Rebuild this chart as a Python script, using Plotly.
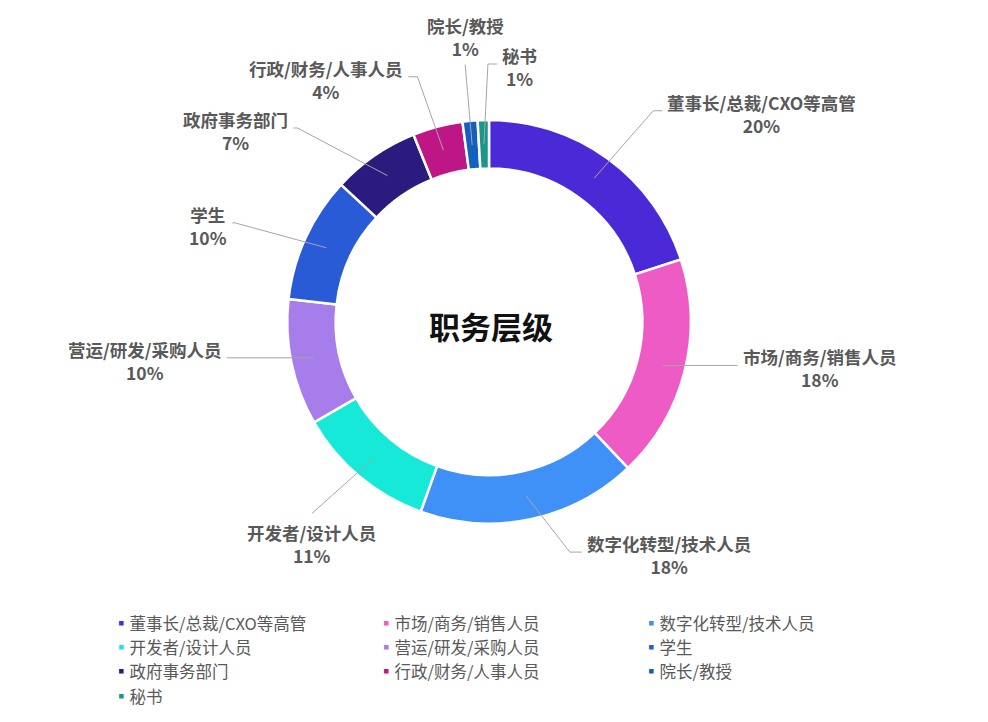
import math
import plotly.graph_objects as go

# --- Data ---
CATEGORIES = [
    "董事长/总裁/CXO等高管", "市场/商务/销售人员", "数字化转型/技术人员",
    "开发者/设计人员", "营运/研发/采购人员", "学生", "政府事务部门",
    "行政/财务/人事人员", "院长/教授", "秘书",
]
SHARES = [20.0, 17.9, 17.6, 11.2, 10.1, 10.1, 7.0, 4.0, 1.2, 0.9]
COLORS = [
    "#4A2AD6", "#EE5BC4", "#3F90F7", "#17E9D9", "#A77CEB",
    "#2A5BD7", "#2B1B7E", "#BF1686", "#1560BD", "#1B968A",
]
CENTER_TITLE = "职务层级"

# --- Layout settings ---
OFF = 8                  # page body margin
FW, FH = 972, 706        # figure size
CX, CY, R = 489, 324.5, 203.5   # pie centre / radius in page px
HOLE = 0.76
FONT = "Noto Sans CJK SC"
TEXT_GREY = "#595959"
LINE_GREY = "#A6A6A6"

# leader line: knee offset from slice mid point (px), tail length (px), text side
LABEL_LAYOUT = [
    (59, -68, 9, "right"),
    (0, 0, 75, "right"),
    (44, 57, 12, "right"),
    (-62, 56, 0, "below"),
    (0, 0, -87, "left"),
    (-91, -25, -3, "left"),
    (-90, -48, -4, "left"),
    (-26, -74, -9, "left"),
    (-7, -81, 0, "above"),
    (4, -81, 9, "right"),
]


def px_to_paper(x, y):
    return (x - OFF) / FW, 1 - (y - OFF) / FH


fig = go.Figure()

x0, y0 = px_to_paper(CX - R, CY + R)
x1, y1 = px_to_paper(CX + R, CY - R)
fig.add_trace(go.Pie(
    labels=CATEGORIES,
    values=SHARES,
    sort=False,
    direction="clockwise",
    rotation=0,
    hole=HOLE,
    textinfo="none",
    showlegend=False,
    marker=dict(colors=COLORS, line=dict(color="white", width=2.5)),
    domain=dict(x=[x0, x1], y=[y0, y1]),
))

# Legend entries: small coloured square in front of each name
for name, color in zip(CATEGORIES, COLORS):
    fig.add_trace(go.Scatter(
        x=[None], y=[None], mode="markers",
        name=f"<span style='color:{color}'>▪</span>{name}",
        marker=dict(symbol="square", size=6, color="rgba(0,0,0,0)"),
    ))

# Leader lines + labels
total = sum(SHARES)
r_mid = R * (1 + HOLE) / 2
cum = 0
shapes, annotations = [], []
for name, val, (kdx, kdy, tail, side) in zip(CATEGORIES, SHARES, LABEL_LAYOUT):
    theta = math.radians((cum + val / 2) / total * 360)
    cum += val
    sx = CX + r_mid * math.sin(theta)
    sy = CY - r_mid * math.cos(theta)
    kx, ky = sx + kdx, sy + kdy
    ex, ey = kx + tail, ky
    pts = [px_to_paper(sx, sy), px_to_paper(kx, ky), px_to_paper(ex, ey)]
    path = "M {} {} L {} {} L {} {}".format(*[c for p in pts for c in p])
    shapes.append(dict(type="path", xref="paper", yref="paper", path=path,
                       line=dict(color=LINE_GREY, width=1)))

    pct = round(val / total * 100)
    text = f"<b>{name}</b><br><b>{pct}%</b>"
    ax, ay = px_to_paper(ex, ey)
    ann = dict(x=ax, y=ay, xref="paper", yref="paper", text=text, showarrow=False,
               align="center", font=dict(family=FONT, size=17.5, color=TEXT_GREY))
    if side == "right":
        ann.update(xanchor="left", yanchor="middle", xshift=3, yshift=-3)
    elif side == "left":
        ann.update(xanchor="right", yanchor="middle", xshift=-3, yshift=-3)
    elif side == "below":
        ann.update(xanchor="center", yanchor="top", yshift=-5)
    else:
        ann.update(xanchor="center", yanchor="bottom", yshift=2)
    annotations.append(ann)

# Centre title
cx, cy = px_to_paper(CX, CY)
annotations.append(dict(x=cx, y=cy, xref="paper", yref="paper", showarrow=False,
                        text=f"<b>{CENTER_TITLE}</b>", yshift=-4, xshift=2,
                        font=dict(family=FONT, size=31, color="#111111")))

lx, ly = px_to_paper(113 - 40, 611)
fig.update_layout(
    width=FW, height=FH,
    margin=dict(l=0, r=0, t=0, b=0),
    paper_bgcolor="white",
    plot_bgcolor="white",
    xaxis=dict(visible=False),
    yaxis=dict(visible=False),
    shapes=shapes,
    annotations=annotations,
    legend=dict(
        orientation="h",
        x=lx, xanchor="left",
        y=ly, yanchor="top",
        entrywidth=220, entrywidthmode="pixels",
        font=dict(family=FONT, size=16.5, color=TEXT_GREY),
        tracegroupgap=0,
    ),
)

fig.write_html("out.html")
